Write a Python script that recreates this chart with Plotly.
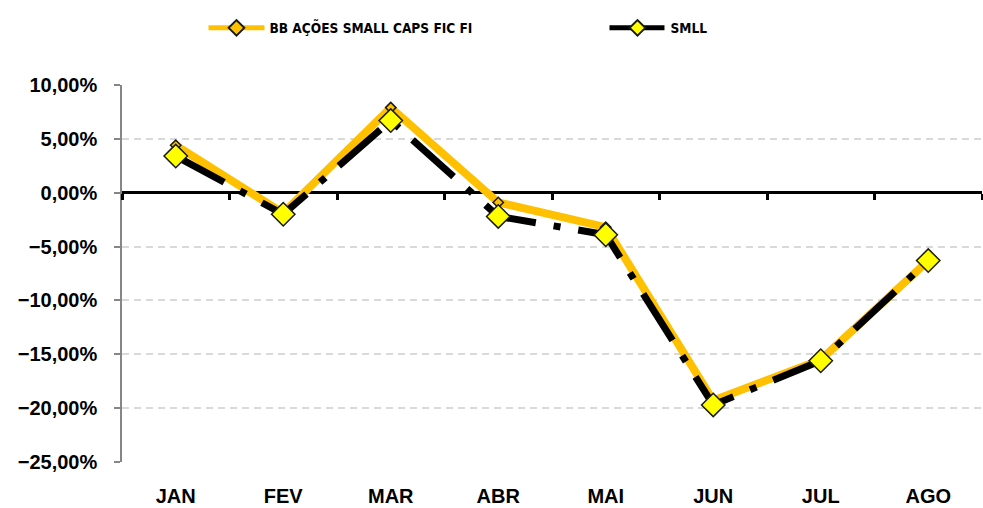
import plotly.graph_objects as go

months = ["JAN", "FEV", "MAR", "ABR", "MAI", "JUN", "JUL", "AGO"]
bb_values = [4.4, -1.9, 7.9, -0.9, -3.2, -19.3, -15.5, -6.3]
smll_values = [3.4, -2.0, 6.7, -2.2, -3.9, -19.7, -15.6, -6.3]
bb_name = "BB AÇÕES SMALL CAPS FIC FI"
smll_name = "SMLL"
y_min, y_max, y_step = -25, 10, 5

FONT = "Liberation Sans, Arial, sans-serif"
NARROW = "Liberation Sans Narrow, DejaVu Sans Condensed, Liberation Sans, sans-serif"

fig = go.Figure()
fig.add_trace(go.Scatter(
    x=months, y=bb_values, name=bb_name, mode="lines+markers",
    line=dict(color="#FFC000", width=8),
    marker=dict(symbol="diamond", size=8, color="#FFC000",
                line=dict(color="#1a1a1a", width=1.5)),
))
fig.add_trace(go.Scatter(
    x=months, y=smll_values, name=smll_name, mode="lines+markers",
    xaxis="x2",
    line=dict(color="#000000", width=7, dash="55px,18px,7px,18px"),
    marker=dict(symbol="diamond", size=18, color="#FFFF00",
                line=dict(color="#1a1a1a", width=1.5)),
))

fig.update_layout(
    width=983, height=508,
    margin=dict(l=122, r=1, t=85, b=46),
    paper_bgcolor="white", plot_bgcolor="white",
    separators=",.",
    showlegend=True,
    legend=dict(
        orientation="h", xref="container", yref="container",
        x=0.207, y=1 - 28 / 508, xanchor="left", yanchor="middle",
        font=dict(family=NARROW, size=13.6, color="#000000", weight="bold"),
        entrywidth=330, itemwidth=56, itemsizing="constant",
    ),
    xaxis=dict(
        type="category", categoryorder="array", categoryarray=months,
        range=[-0.5, len(months) - 0.5],
        showline=False, showgrid=False, zeroline=False, ticks="",
        ticklabelstandoff=20,
        tickfont=dict(family=FONT, size=20, color="#000000", weight="bold"),
    ),
    xaxis2=dict(
        type="category", categoryorder="array", categoryarray=months,
        range=[-0.5, len(months) - 0.5],
        overlaying="x", anchor="free",
        position=(0 - y_min) / (y_max - y_min),
        showline=False, showgrid=False, zeroline=False,
        ticks="outside", tickson="boundaries", ticklen=6, tickwidth=3,
        tickcolor="#000000", showticklabels=False,
    ),
    yaxis=dict(
        range=[y_min, y_max], dtick=y_step, tick0=0,
        tickformat=".2f", ticksuffix="%",
        showline=True, linecolor="#868686", linewidth=1.5,
        ticks="outside", ticklen=6, tickwidth=1.5, tickcolor="#868686",
        ticklabelstandoff=13,
        showgrid=True, gridcolor="#D9D9D9", gridwidth=1.5, griddash="7px,5px",
        zeroline=True, zerolinecolor="#000000", zerolinewidth=3,
        tickfont=dict(family=FONT, size=20, color="#000000", weight="bold"),
    ),
)

fig.write_html(
    "out.html",
    config={"displayModeBar": False},
    post_script="document.body.style.margin='0';document.body.style.padding='0';",
)
